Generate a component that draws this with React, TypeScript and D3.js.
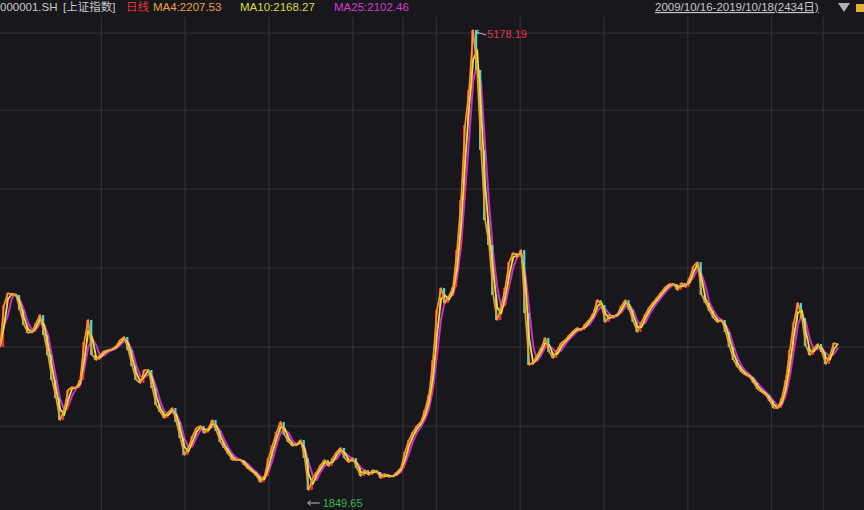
import * as d3 from "d3"

// sampled closes of 000001.SH, evenly spaced from 2009/10/16 to 2019/10/18
const closes = [
  2884, 3188, 3275, 3261, 3261, 3152, 3044, 2986, 2993, 3058,
  3116, 2971, 2826, 2646, 2515, 2356, 2429, 2573, 2595, 2588,
  2646, 2921, 3080, 2826, 2790, 2826, 2855, 2863, 2870, 2892,
  2935, 2957, 2863, 2747, 2646, 2624, 2718, 2718, 2588, 2465,
  2414, 2371, 2414, 2443, 2342, 2226, 2103, 2154, 2240, 2298,
  2313, 2262, 2298, 2356, 2277, 2197, 2154, 2110, 2067, 2067,
  2067, 2031, 2002, 1980, 1951, 1907, 1951, 2081, 2175, 2269,
  2342, 2248, 2197, 2168, 2182, 2211, 2081, 1849.65, 1936, 1980,
  2031, 2067, 2023, 2081, 2125, 2154, 2081, 2052, 2081, 2009,
  1951, 1994, 1958, 1994, 1980, 1936, 1965, 1944, 1951, 1980,
  2009, 2125, 2211, 2269, 2313, 2342, 2429, 2537, 2790, 3152,
  3311, 3203, 3253, 3319, 3586, 3948, 4491, 4744, 5178.19, 4889,
  4310, 3803, 3622, 3261, 3080, 3174, 3311, 3499, 3565, 3536,
  3586, 3130, 2754, 2776, 2826, 2877, 2950, 2848, 2805, 2863,
  2913, 2935, 2971, 3000, 3022, 3007, 3051, 3080, 3130, 3224,
  3188, 3065, 3116, 3101, 3123, 3181, 3224, 3152, 3065, 2993,
  3065, 3123, 3174, 3210, 3246, 3282, 3319, 3340, 3340, 3297,
  3348, 3319, 3384, 3470, 3499, 3261, 3203, 3145, 3094, 3065,
  3080, 2993, 2884, 2790, 2740, 2703, 2682, 2667, 2624, 2580,
  2559, 2537, 2494, 2443, 2443, 2515, 2646, 2863, 3065, 3203,
  3094, 2892, 2826, 2877, 2906, 2848, 2761, 2826, 2913, 2899,
]

const startDate = "2009-10-16"
const endDate = "2019-10-18"
const gridDates = [
  "2011-01-01", "2012-01-01", "2013-01-01", "2014-01-01", "2014-08-08",
  "2015-01-01", "2016-01-01", "2017-01-01", "2018-01-01", "2019-01-01", "2019-08-15",
]
const gridPrices = [5156, 4599, 4027, 3455, 2884, 2312]

const maxLabel = "5178.19"
const minLabel = "1849.65"

const headerItems = [
  { text: "000001.SH", color: "#c9c9cc" },
  { text: "[上证指数]", color: "#c9c9cc" },
  { text: "日线", color: "#e8333c" },
  { text: "MA4:2207.53", color: "#eea23c" },
  { text: "MA10:2168.27", color: "#d9dc3e" },
  { text: "MA25:2102.46", color: "#d63ad6" },
]
const rangeLabel = "2009/10/16-2019/10/18(2434日)"

const parse = d3.timeParse("%Y-%m-%d")

const movingAvg = (vals: number[], n: number) =>
  vals.map((_, i) => d3.mean(vals.slice(Math.max(0, i - n + 1), i + 1)) as number)

const App = () => {
  const width = 864
  const height = 510
  const start = parse(startDate)!
  const end = parse(endDate)!

  const x = d3.scaleTime().domain([start, end]).range([0, 838])
  const y = d3.scaleLinear().domain([1849.65, 5178.19]).range([490, 30])

  const step = (+end - +start) / (closes.length - 1)
  const dates = closes.map((_, i) => new Date(+start + i * step))

  const line = d3
    .line<number>()
    .x((_, i) => x(dates[i]))
    .y((d) => y(d))

  const ma10 = movingAvg(closes, 2)
  const ma25 = movingAvg(closes, 3)

  const hiIdx = d3.maxIndex(closes)
  const loIdx = d3.minIndex(closes)
  const hx = x(dates[hiIdx])
  const hy = y(closes[hiIdx])
  const lx = x(dates[loIdx])
  const ly = y(closes[loIdx])

  const font = "'Liberation Sans', 'Noto Sans CJK SC', sans-serif"
  const headerX = [0, 63, 126, 153, 240, 334]

  return (
    <svg
      width={width}
      height={height}
      style={{ position: "absolute", left: 0, top: 0, background: "#17171c" }}
      fontFamily={font}
    >
      <rect width={width} height={height} fill="#17171c" />

      {/* grid */}
      {gridPrices.map((p) => (
        <line key={p} x1={0} x2={width} y1={y(p)} y2={y(p)} stroke="#2e2e35" strokeWidth={1.3} />
      ))}
      {gridDates.map((d) => {
        const gx = x(parse(d)!)
        return <line key={d} x1={gx} x2={gx} y1={17} y2={height} stroke="#2e2e35" strokeWidth={1.3} />
      })}

      <path d={line(ma25) ?? ""} fill="none" stroke="#cc2fd0" strokeWidth={2} strokeLinejoin="round" />

      {/* candle-ish ticks */}
      {closes.map((c, i) => {
        if (i === 0) return null
        const prev = closes[i - 1]
        const cx = x(dates[i]) - 1
        return (
          <line
            key={i}
            x1={cx}
            x2={cx}
            y1={y(prev)}
            y2={y(c)}
            stroke={c >= prev ? "#ff2e3a" : "#4fd8d8"}
            strokeWidth={2.2}
          />
        )
      })}

      <path d={line(ma10) ?? ""} fill="none" stroke="#e8e23a" strokeWidth={1.8} strokeLinejoin="round" />
      <path d={line(closes) ?? ""} fill="none" stroke="#f29a2e" strokeWidth={1.7} strokeLinejoin="round" />

      {/* max / min markers */}
      <path d={`M${hx + 3},${hy + 2} L${hx + 13},${hy + 5}`} stroke="#bfbfc4" strokeWidth={1} fill="none" />
      <path d={`M${hx + 3},${hy + 2} l3,-2 M${hx + 3},${hy + 2} l3,2`} stroke="#bfbfc4" strokeWidth={1} fill="none" />
      <text x={hx + 14} y={hy + 8} fill="#e0354a" fontSize={11}>
        {maxLabel}
      </text>

      <path d={`M${lx - 1},${ly + 13} L${lx + 11},${ly + 13} M${lx - 1},${ly + 13} l3,-2.5 M${lx - 1},${ly + 13} l3,2.5`} stroke="#bfbfc4" strokeWidth={1} fill="none" />
      <text x={lx + 14} y={ly + 17} fill="#3db552" fontSize={11}>
        {minLabel}
      </text>

      {/* header */}
      {headerItems.map((h, i) => (
        <text key={h.text} x={headerX[i]} y={11} fill={h.color} fontSize={11.5}>
          {h.text}
        </text>
      ))}
      <text x={655} y={11} fill="#c9c9cc" fontSize={11.5} textDecoration="underline">
        {rangeLabel}
      </text>
      <path d="M838,3 L850,3 L844,12 Z" fill="#b0b0b4" />
      <rect x={856} y={4} width={8} height={8} fill="#e0b030" />
    </svg>
  )
}

export default App
